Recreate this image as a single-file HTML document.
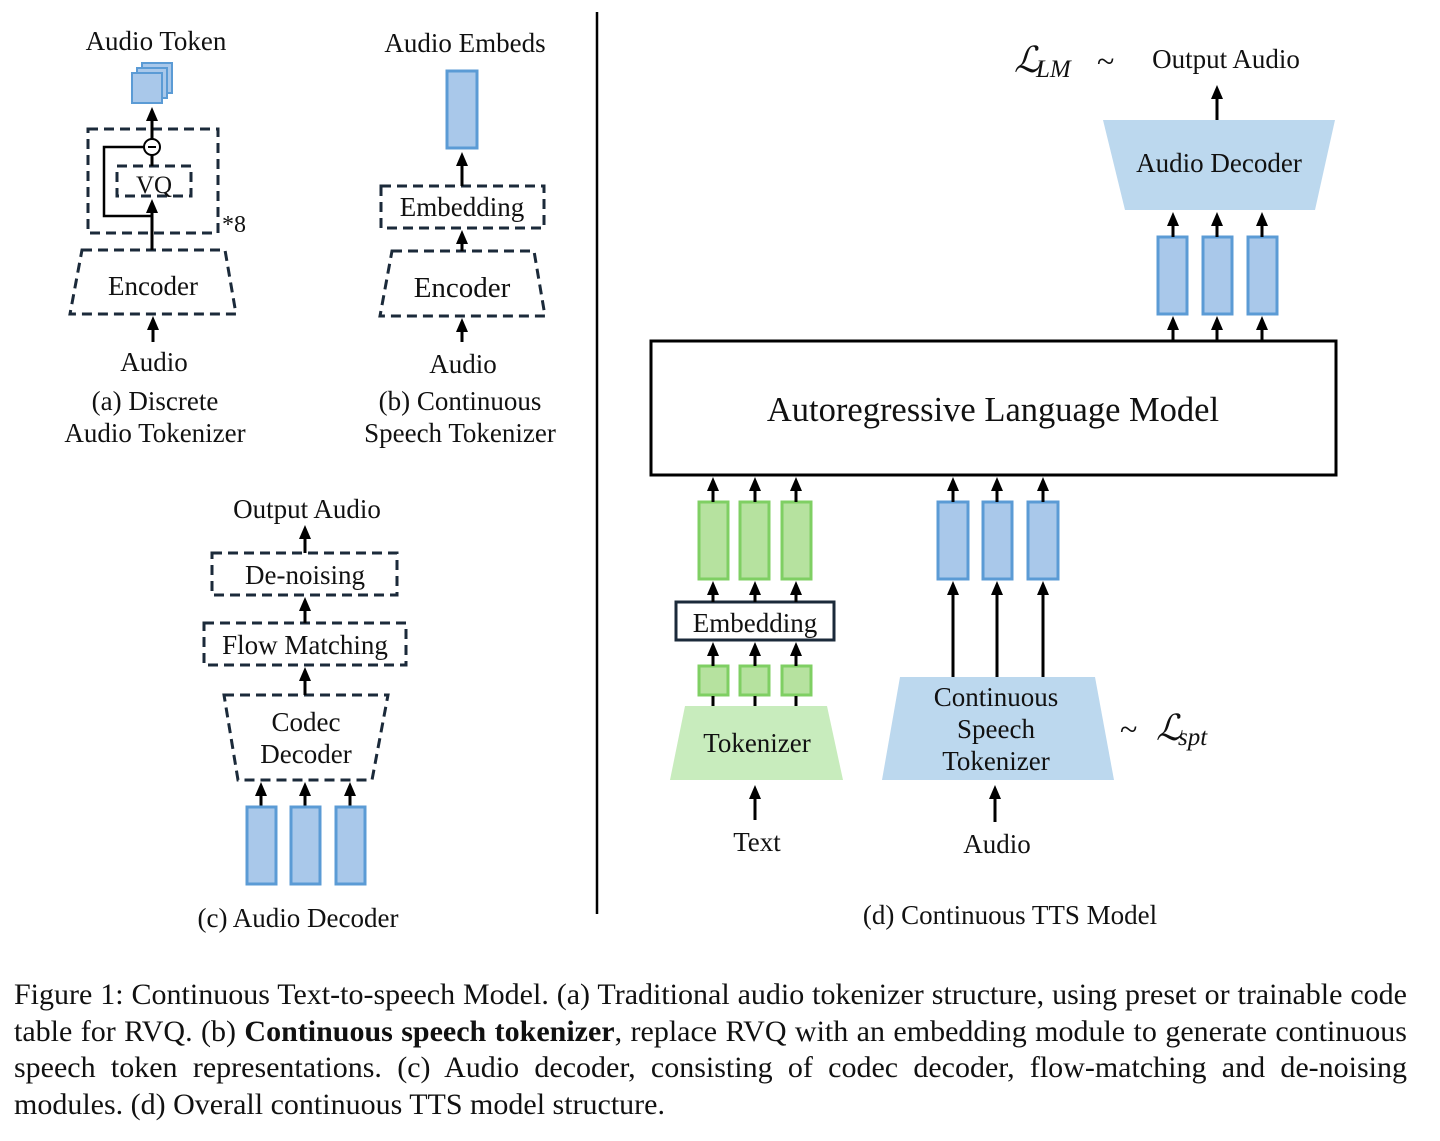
<!DOCTYPE html>
<html><head><meta charset="utf-8"><style>
html,body{margin:0;padding:0;background:#fff;width:1440px;height:1141px;overflow:hidden}
svg{position:absolute;left:0;top:0}
text{font-family:"Liberation Serif",serif;fill:#111}
.cap{position:absolute;left:14px;width:1393px;font-family:"Liberation Serif",serif;font-size:30px;line-height:36.5px;color:#111;text-align:justify;text-align-last:justify;top:977px}
.cap div{height:36.5px;overflow:visible}
</style></head><body>
<svg width="1440" height="1141" viewBox="0 0 1440 1141">
<defs>
<marker id="ah" markerWidth="14" markerHeight="14" refX="7" refY="7" orient="auto" markerUnits="userSpaceOnUse">
<path d="M0,1 L14,7 L0,13 Z" fill="#000"/></marker>
</defs>
<!-- (a) -->
<text x="156" y="50" font-size="27" text-anchor="middle">Audio Token</text>
<rect x="142" y="63" width="30" height="30" fill="#a9c8ea" stroke="#5b9bd5" stroke-width="2"/>
<rect x="137" y="68" width="30" height="30" fill="#a9c8ea" stroke="#5b9bd5" stroke-width="2"/>
<rect x="132" y="73" width="30" height="30" fill="#a9c8ea" stroke="#5b9bd5" stroke-width="2"/>
<g fill="none" stroke="#1b2a3a" stroke-width="3" stroke-dasharray="10,6">
<rect x="88" y="129" width="130" height="104"/>
<rect x="117" y="166" width="74" height="30"/>
<path d="M82,250 L225,250 L236,314 L70,314 Z"/>
<rect x="381" y="186" width="163" height="42"/>
<path d="M392,251 L534,251 L545,316 L380,316 Z"/>
<rect x="212" y="553" width="185" height="42"/>
<rect x="204" y="623" width="202" height="42"/>
<path d="M224,695 L388,695 L372,780 L238,780 Z"/>
</g>
<g stroke="#000" stroke-width="3" fill="none">
<line x1="152" y1="250" x2="152" y2="206" marker-end="url(#ah)"/>
<polyline points="152,216 104,216 104,147 144,147" stroke-width="2.5"/>
<line x1="152" y1="166" x2="152" y2="155"/>
<line x1="152" y1="139" x2="152" y2="114" marker-end="url(#ah)"/>
<circle cx="152" cy="147" r="8" stroke-width="2"/>
<line x1="148" y1="147" x2="156" y2="147" stroke-width="2"/>
<line x1="153" y1="342" x2="153" y2="323" marker-end="url(#ah)"/>
<line x1="462" y1="186" x2="462" y2="159" marker-end="url(#ah)"/>
<line x1="462" y1="251" x2="462" y2="237" marker-end="url(#ah)"/>
<line x1="462" y1="342" x2="462" y2="325" marker-end="url(#ah)"/>
<line x1="305" y1="553" x2="305" y2="532" marker-end="url(#ah)"/>
<line x1="305" y1="623" x2="305" y2="604" marker-end="url(#ah)"/>
<line x1="305" y1="695" x2="305" y2="674" marker-end="url(#ah)"/>
<line x1="261" y1="806" x2="261" y2="789" marker-end="url(#ah)"/>
<line x1="305" y1="806" x2="305" y2="789" marker-end="url(#ah)"/>
<line x1="350" y1="806" x2="350" y2="789" marker-end="url(#ah)"/>
</g>
<text x="154" y="193" font-size="25" text-anchor="middle">VQ</text>
<text x="222" y="232" font-size="24">*8</text>
<text x="153" y="295" font-size="27" text-anchor="middle">Encoder</text>
<text x="154" y="371" font-size="27" text-anchor="middle">Audio</text>
<text x="155" y="410" font-size="27" text-anchor="middle">(a) Discrete</text>
<text x="155" y="442" font-size="27" text-anchor="middle">Audio Tokenizer</text>
<!-- (b) -->
<text x="465" y="52" font-size="27" text-anchor="middle">Audio Embeds</text>
<rect x="447" y="71" width="30" height="77" fill="#a9c8ea" stroke="#5b9bd5" stroke-width="3"/>
<text x="462" y="216" font-size="27" text-anchor="middle">Embedding</text>
<text x="462" y="297" font-size="29" text-anchor="middle">Encoder</text>
<text x="463" y="373" font-size="27" text-anchor="middle">Audio</text>
<text x="460" y="410" font-size="27" text-anchor="middle">(b) Continuous</text>
<text x="460" y="442" font-size="27" text-anchor="middle">Speech Tokenizer</text>
<!-- (c) -->
<text x="307" y="518" font-size="27" text-anchor="middle">Output Audio</text>
<text x="305" y="584" font-size="27" text-anchor="middle">De-noising</text>
<text x="305" y="654" font-size="27" text-anchor="middle">Flow Matching</text>
<text x="306" y="731" font-size="27" text-anchor="middle">Codec</text>
<text x="306" y="763" font-size="27" text-anchor="middle">Decoder</text>
<g fill="#a9c8ea" stroke="#5b9bd5" stroke-width="3">
<rect x="247" y="807" width="29" height="77"/><rect x="291" y="807" width="29" height="77"/><rect x="336" y="807" width="29" height="77"/>
</g>
<text x="298" y="927" font-size="27" text-anchor="middle">(c) Audio Decoder</text>
<line x1="597" y1="12" x2="597" y2="914" stroke="#000" stroke-width="2.5"/>
<!-- (d) -->
<text x="1014" y="72" font-size="36" font-style="italic">ℒ</text>
<text x="1036" y="77" font-size="25" font-style="italic">LM</text>
<text x="1097" y="72" font-size="32">~</text>
<text x="1226" y="68" font-size="27" text-anchor="middle">Output Audio</text>
<path d="M1103,120 L1335,120 L1315,210 L1125,210 Z" fill="#bcd8ee"/>
<text x="1219" y="172" font-size="27" text-anchor="middle">Audio Decoder</text>
<g fill="#a9c8ea" stroke="#5b9bd5" stroke-width="3">
<rect x="1158" y="237" width="29" height="77"/><rect x="1203" y="237" width="29" height="77"/><rect x="1248" y="237" width="29" height="77"/>
<rect x="938" y="502" width="30" height="77"/><rect x="983" y="502" width="29" height="77"/><rect x="1028" y="502" width="30" height="77"/>
</g>
<g fill="#b6e29f" stroke="#7fcf63" stroke-width="3">
<rect x="699" y="502" width="29" height="77"/><rect x="740" y="502" width="29" height="77"/><rect x="782" y="502" width="29" height="77"/>
<rect x="699" y="666" width="29" height="29"/><rect x="740" y="666" width="29" height="29"/><rect x="782" y="666" width="29" height="29"/>
</g>
<rect x="651" y="341" width="685" height="134" fill="none" stroke="#000" stroke-width="3"/>
<text x="993" y="421" font-size="34.5" text-anchor="middle">Autoregressive Language Model</text>
<rect x="676" y="602" width="158" height="38" fill="#fff" stroke="#1b2a3a" stroke-width="3"/>
<text x="755" y="632" font-size="27" text-anchor="middle">Embedding</text>
<path d="M685,706 L827,706 L843,780 L670,780 Z" fill="#c8ecbd"/>
<text x="757" y="752" font-size="27" text-anchor="middle">Tokenizer</text>
<path d="M900,677 L1095,677 L1114,780 L882,780 Z" fill="#bcd8ee"/>
<text x="996" y="706" font-size="27" text-anchor="middle">Continuous</text>
<text x="996" y="738" font-size="27" text-anchor="middle">Speech</text>
<text x="996" y="770" font-size="27" text-anchor="middle">Tokenizer</text>
<text x="1120" y="740" font-size="32">~</text>
<text x="1156" y="740" font-size="36" font-style="italic">ℒ</text>
<text x="1178" y="745" font-size="25" font-style="italic">spt</text>
<text x="757" y="851" font-size="27" text-anchor="middle">Text</text>
<text x="997" y="853" font-size="27" text-anchor="middle">Audio</text>
<text x="1010" y="924" font-size="27" text-anchor="middle">(d) Continuous TTS Model</text>
<g stroke="#000" stroke-width="3" fill="none">
<line x1="1217" y1="120" x2="1217" y2="92" marker-end="url(#ah)"/>
<line x1="1173" y1="237" x2="1173" y2="219" marker-end="url(#ah)"/>
<line x1="1217" y1="237" x2="1217" y2="219" marker-end="url(#ah)"/>
<line x1="1262" y1="237" x2="1262" y2="219" marker-end="url(#ah)"/>
<line x1="1173" y1="341" x2="1173" y2="323" marker-end="url(#ah)"/>
<line x1="1217" y1="341" x2="1217" y2="323" marker-end="url(#ah)"/>
<line x1="1262" y1="341" x2="1262" y2="323" marker-end="url(#ah)"/>
<line x1="713" y1="502" x2="713" y2="484" marker-end="url(#ah)"/>
<line x1="755" y1="502" x2="755" y2="484" marker-end="url(#ah)"/>
<line x1="796" y1="502" x2="796" y2="484" marker-end="url(#ah)"/>
<line x1="953" y1="502" x2="953" y2="484" marker-end="url(#ah)"/>
<line x1="997" y1="502" x2="997" y2="484" marker-end="url(#ah)"/>
<line x1="1043" y1="502" x2="1043" y2="484" marker-end="url(#ah)"/>
<line x1="713" y1="602" x2="713" y2="588" marker-end="url(#ah)"/>
<line x1="755" y1="602" x2="755" y2="588" marker-end="url(#ah)"/>
<line x1="796" y1="602" x2="796" y2="588" marker-end="url(#ah)"/>
<line x1="713" y1="666" x2="713" y2="649" marker-end="url(#ah)"/>
<line x1="755" y1="666" x2="755" y2="649" marker-end="url(#ah)"/>
<line x1="796" y1="666" x2="796" y2="649" marker-end="url(#ah)"/>
<line x1="713" y1="706" x2="713" y2="696"/>
<line x1="755" y1="706" x2="755" y2="696"/>
<line x1="796" y1="706" x2="796" y2="696"/>
<line x1="953" y1="677" x2="953" y2="588" marker-end="url(#ah)"/>
<line x1="997" y1="677" x2="997" y2="588" marker-end="url(#ah)"/>
<line x1="1043" y1="677" x2="1043" y2="588" marker-end="url(#ah)"/>
<line x1="755" y1="820" x2="755" y2="792" marker-end="url(#ah)"/>
<line x1="995" y1="822" x2="995" y2="792" marker-end="url(#ah)"/>
</g>
</svg>
<div class="cap">
<div>Figure 1: Continuous Text-to-speech Model. (a) Traditional audio tokenizer structure, using preset or trainable code</div>
<div>table for RVQ. (b) <b>Continuous speech tokenizer</b>, replace RVQ with an embedding module to generate continuous</div>
<div>speech token representations. (c) Audio decoder, consisting of codec decoder, flow-matching and de-noising</div>
<div style="text-align-last:left">modules. (d) Overall continuous TTS model structure.</div>
</div>
</body></html>
